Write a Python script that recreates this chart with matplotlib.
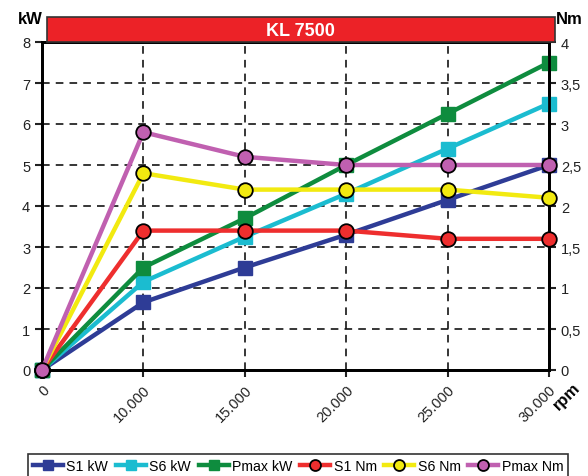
import numpy as np
import matplotlib.pyplot as plt
from matplotlib.patches import Rectangle

plt.rcParams['font.family'] = ['Liberation Sans Narrow', 'Liberation Sans', 'DejaVu Sans']

# dati
rpm_labels = ['0', '10.000', '15.000', '20.000', '25.000', '30.000']
s1_kw = [0, 1.65, 2.5, 3.3, 4.15, 5.0]
s6_kw = [0, 2.15, 3.25, 4.3, 5.4, 6.5]
pmax_kw = [0, 2.5, 3.7, 5.0, 6.25, 7.5]
s1_nm = [0, 1.7, 1.7, 1.7, 1.6, 1.6]
s6_nm = [0, 2.4, 2.2, 2.2, 2.2, 2.1]
pmax_nm = [0, 2.9, 2.6, 2.5, 2.5, 2.5]

x = np.arange(len(rpm_labels))

fig = plt.figure(figsize=(5.88, 4.77), dpi=100)
ax = fig.add_axes([42/588, 1-371/477, (549-42)/588, (371-43)/477])
ax2 = ax.twinx()

lw = 3.2
ms = 10.5
h = []
for vals, col, lab in [(s1_kw, '#2E3C96', 'S1 kW'), (s6_kw, '#1BBCD0', 'S6 kW'),
                       (pmax_kw, '#0E8C3E', 'Pmax kW')]:
    l, = ax.plot(x, vals, color=col, lw=lw, marker='s', ms=ms, mec=col, clip_on=False, zorder=3, label=lab)
    h.append(l)
for vals, col, lab in [(s1_nm, '#EE2E2E', 'S1 Nm'), (s6_nm, '#F2EA10', 'S6 Nm'),
                       (pmax_nm, '#C060B0', 'Pmax Nm')]:
    l, = ax2.plot(x, vals, color=col, lw=lw, marker='o', ms=ms, mec='black', mew=1.3, clip_on=False, zorder=3, label=lab)
    h.append(l)

ax.set_xlim(0, 5)
ax.set_ylim(0, 8)
ax2.set_ylim(0, 4)
ax.set_yticks(range(9))
ax2.set_yticks(np.arange(0, 4.01, 0.5))
ax2.set_yticklabels(['0', '0,5', '1', '1,5', '2', '2,5', '3', '3,5', '4'])
ax.set_xticks(x)
ax.set_xticklabels(rpm_labels, rotation=45, ha='right', rotation_mode='anchor')
ax.grid(True, color='black', ls=(0, (5, 4)), lw=1.1)
ax.set_axisbelow(True)
for a in (ax, ax2):
    for s in a.spines.values():
        s.set_linewidth(2)
    a.tick_params(labelsize=10.5, colors='#222222', width=1.5, length=5)
ax.tick_params(axis='x', length=5, pad=4)

fig.text(18/588, 1-20/477, 'kW', fontsize=12, fontweight='bold', ha='left', va='center')
fig.text(583/588, 1-20/477, 'Nm', fontsize=12, fontweight='bold', ha='right', va='center')
fig.text(567/588, 1-397/477, 'rpm', fontsize=12, fontweight='bold', rotation=45, ha='center', va='center')

# barra rossa titolo
bar = Rectangle((47/588, 1-43/477), (555-47)/588, 25/477, transform=fig.transFigure,
                facecolor='#EC2227', edgecolor='#333333', lw=1.2)
fig.patches.append(bar)
fig.text(300/588, 1-31/477, 'KL 7500', color='white', fontsize=13, fontweight='bold', ha='center', va='center')

leg = fig.legend(handles=h, loc='lower left', bbox_to_anchor=(28/588, -2/477), ncol=6,
                 frameon=True, fancybox=False, edgecolor='black', fontsize=10.2,
                 handlelength=2.1, handletextpad=0.25, columnspacing=0.55, borderpad=0.35,
                 borderaxespad=0, markerscale=0.75)
leg.get_frame().set_linewidth(1.2)

fig.savefig('out.png', dpi=100)
